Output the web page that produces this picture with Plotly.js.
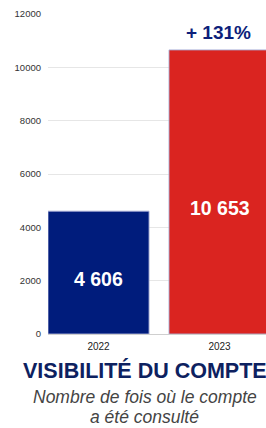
<!DOCTYPE html>
<html><head><meta charset="utf-8">
<script src="https://cdn.plot.ly/plotly-3.0.1.min.js"></script>
<style>html,body{margin:0;padding:0;background:#fff;}#chart{width:266px;height:428px;}</style>
</head><body><div id="chart"></div>
<script>
const categories = ['2022', '2023'];
const values = [4606, 10653];
const valueLabels = ['4 606', '10 653'];
const barColors = ['#001c7c', '#da2420'];
const growthLabel = '+ 131%';
const yTicks = [0, 2000, 4000, 6000, 8000, 10000, 12000];
const titleText = 'VISIBILITÉ DU COMPTE';
const subtitleLines = ['Nombre de fois où le compte', 'a été consulté'];

const font = 'Liberation Sans, Arial, Helvetica, sans-serif';
const bw = 0.835;

const trace = {
  type: 'bar', x: [0, 1], y: values, width: bw,
  marker: {color: barColors, line: {color: 'rgba(170,175,215,0.9)', width: 1}},
  hoverinfo: 'none'
};

const annotations = values.map((v, i) => ({
  x: i, y: v * 0.445, xref: 'x', yref: 'y', text: valueLabels[i], showarrow: false,
  font: {family: font, size: 19.5, color: '#ffffff', weight: 'bold'}
}));
annotations.push({
  x: 1, y: values[1], xref: 'x', yref: 'y', yanchor: 'bottom', yshift: 5, xshift: -1,
  text: growthLabel, showarrow: false,
  font: {family: font, size: 19, color: '#0d1f7a', weight: 'bold'}
});
annotations.push({
  x: 0.443, xref: 'paper', y: -0.1156, yref: 'paper', yanchor: 'middle', showarrow: false,
  text: '<b>' + titleText + '</b>', font: {family: font, size: 21.5, color: '#0d2160'}
});
subtitleLines.forEach((t, i) => annotations.push({
  x: 0.443, xref: 'paper', y: -0.198 - i * 0.062, yref: 'paper', yanchor: 'middle', showarrow: false,
  text: '<i>' + t + '</i>', font: {family: font, size: 17.5, color: '#444'}
}));

const layout = {
  width: 266, height: 428,
  margin: {l: 48, r: 0, t: 14, b: 94},
  paper_bgcolor: '#fff', plot_bgcolor: '#fff',
  showlegend: false,
  xaxis: {
    range: [-bw / 2, -bw / 2 + 218 / 121],
    tickvals: [0, 1], ticktext: categories,
    tickfont: {family: font, size: 10, color: '#222'},
    showgrid: false, zeroline: false, showline: false, ticks: '', ticklabelstandoff: 5
  },
  yaxis: {
    range: [0, 12000], tickvals: yTicks, ticktext: yTicks.map(String),
    tickfont: {family: font, size: 9.5, color: '#333'},
    showgrid: true, gridcolor: '#e6e6e6', gridwidth: 1,
    zeroline: true, zerolinecolor: '#cfcfcf', zerolinewidth: 1,
    showline: false, ticks: '', ticklabelstandoff: 6
  },
  annotations: annotations
};

Plotly.newPlot('chart', [trace], layout, {staticPlot: true, displayModeBar: false});
</script></body></html>
